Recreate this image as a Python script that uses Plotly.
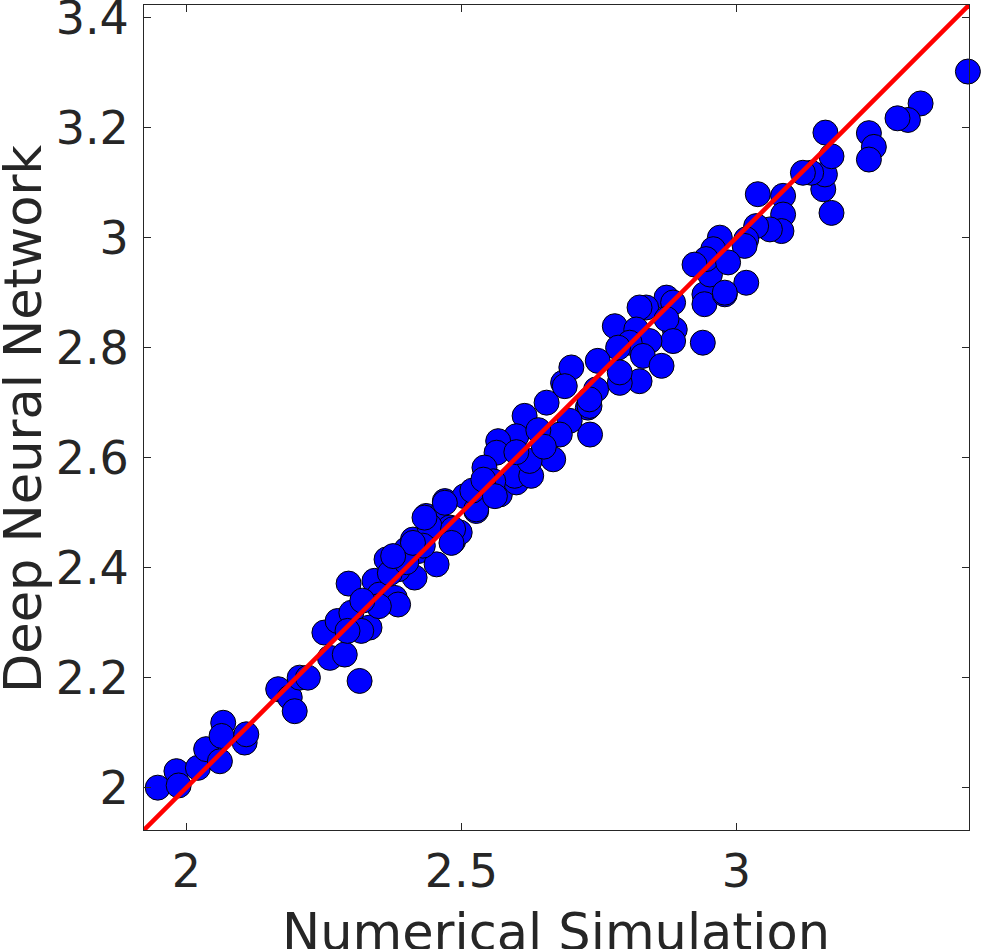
import plotly.graph_objects as go

# Scatter data: (Numerical Simulation, Deep Neural Network)
sim = [1.919, 1.948, 1.982, 1.986, 2.021, 2.036, 2.061, 2.067, 2.064, 2.106,
       2.109, 2.167, 2.188, 2.197, 2.206, 2.221, 2.261, 2.288, 2.315, 2.295,
       2.251, 2.275, 2.300, 2.333, 2.318, 2.293, 2.342, 2.351, 2.379, 2.385,
       2.415, 2.385, 2.364, 2.400, 2.412, 2.421, 2.455, 2.436, 2.455, 2.470,
       2.485, 2.479, 2.506, 2.527, 2.570, 2.600, 2.497, 2.685, 2.655, 2.730,
       2.734, 2.697, 2.667, 2.679, 2.615, 2.600, 2.567, 2.564, 2.542, 2.597,
       2.627, 2.624, 2.558, 2.442, 2.873, 2.885, 2.836, 2.824, 2.779, 2.818,
       2.888, 2.873, 2.885, 2.842, 2.806, 2.785, 2.830, 2.864, 2.824, 2.788,
       2.788, 2.748, 2.700, 2.688, 2.745, 2.733, 2.939, 2.942, 2.942, 2.979,
       3.018, 2.952, 3.173, 3.158, 3.161, 3.136, 3.121, 3.173, 3.162, 3.039,
       3.085, 3.085, 3.082, 3.061, 3.036, 3.018, 3.015, 2.970, 2.958, 2.945,
       2.924, 2.985, 2.979, 3.421, 3.335, 3.312, 3.293, 3.241, 3.250, 3.241,
       2.527, 2.470, 2.485, 2.482, 2.640, 2.650, 2.520, 2.540, 2.600, 2.430,
       2.350, 2.370, 2.320, 2.400, 2.433, 2.412, 2.376, 2.561, 2.733]
dnn = [2.004, 2.000, 2.030, 2.004, 2.036, 2.070, 2.048, 2.118, 2.094, 2.082,
       2.097, 2.179, 2.164, 2.139, 2.200, 2.200, 2.236, 2.242, 2.194, 2.371,
       2.282, 2.303, 2.318, 2.291, 2.285, 2.285, 2.376, 2.351, 2.345, 2.333,
       2.382, 2.397, 2.415, 2.433, 2.451, 2.430, 2.406, 2.494, 2.491, 2.521,
       2.448, 2.473, 2.530, 2.503, 2.533, 2.555, 2.464, 2.736, 2.700, 2.691,
       2.642, 2.667, 2.597, 2.642, 2.676, 2.639, 2.630, 2.609, 2.582, 2.567,
       2.567, 2.594, 2.557, 2.476, 2.891, 2.882, 2.873, 2.873, 2.839, 2.833,
       2.833, 2.852, 2.812, 2.812, 2.809, 2.800, 2.785, 2.767, 2.739, 2.736,
       2.755, 2.776, 2.764, 2.730, 2.724, 2.694, 2.809, 2.897, 2.879, 2.897,
       2.918, 2.933, 3.045, 3.088, 3.115, 3.118, 3.118, 3.148, 3.191, 3.079,
       3.076, 3.042, 3.012, 3.015, 3.021, 2.997, 2.985, 3.000, 2.979, 2.961,
       2.951, 2.955, 2.900, 3.302, 3.244, 3.214, 3.217, 3.190, 3.165, 3.142,
       2.506, 2.518, 2.470, 2.445, 2.650, 2.620, 2.540, 2.560, 2.610, 2.440,
       2.330, 2.390, 2.340, 2.410, 2.491, 2.445, 2.421, 2.530, 2.706]

# identity reference line
line_vals = [1.923, 3.423]

x_ticks = [2, 2.5, 3]
x_tick_labels = ["2", "2.5", "3"]
y_ticks = [2, 2.2, 2.4, 2.6, 2.8, 3, 3.2, 3.4]
y_tick_labels = ["2", "2.2", "2.4", "2.6", "2.8", "3", "3.2", "3.4"]

FONT = "DejaVu Sans"
DARK = "#262626"

W, H = 982, 949
ML, MR, MT, MB = 144, 13, 5, 119
PW, PH = W - ML - MR, H - MT - MB

fig = go.Figure()
fig.add_trace(go.Scatter(
    x=sim, y=dnn, mode="markers", cliponaxis=False,
    marker=dict(size=25, color="#0000FF", line=dict(color="black", width=1)),
    showlegend=False,
))
fig.add_trace(go.Scatter(
    x=line_vals, y=line_vals, mode="lines",
    line=dict(color="#FF0000", width=4.5),
    showlegend=False,
))

axis_common = dict(
    showgrid=False, zeroline=False, showline=True, linecolor=DARK, linewidth=1,
    mirror="ticks", ticks="inside", ticklen=7, tickwidth=1, tickcolor=DARK,
    tickfont=dict(family=FONT, size=46, color=DARK), automargin=False,
    ticklabeloverflow="allow",
)

fig.update_layout(
    width=W, height=H,
    margin=dict(l=ML, r=MR, t=MT, b=MB),
    paper_bgcolor="white", plot_bgcolor="white",
    xaxis=dict(range=line_vals, tickvals=x_ticks, ticktext=x_tick_labels,
               ticklabelstandoff=1, **axis_common),
    yaxis=dict(range=line_vals, tickvals=y_ticks, ticktext=y_tick_labels,
               ticklabelstandoff=5, **axis_common),
)

# axis titles as annotations (pixel-placed)
fig.add_annotation(
    text="Numerical Simulation", xref="paper", yref="paper",
    x=(556 - ML) / PW, y=-(933 - (MT + PH)) / PH,
    xanchor="center", yanchor="middle", showarrow=False,
    font=dict(family=FONT, size=51, color=DARK),
)
fig.add_annotation(
    text="Deep Neural Network", xref="paper", yref="paper",
    x=(23 - ML) / PW, y=1 - (419 - MT) / PH,
    xanchor="center", yanchor="middle", textangle=-90, showarrow=False,
    font=dict(family=FONT, size=51, color=DARK),
)

fig.write_html("out.html")
